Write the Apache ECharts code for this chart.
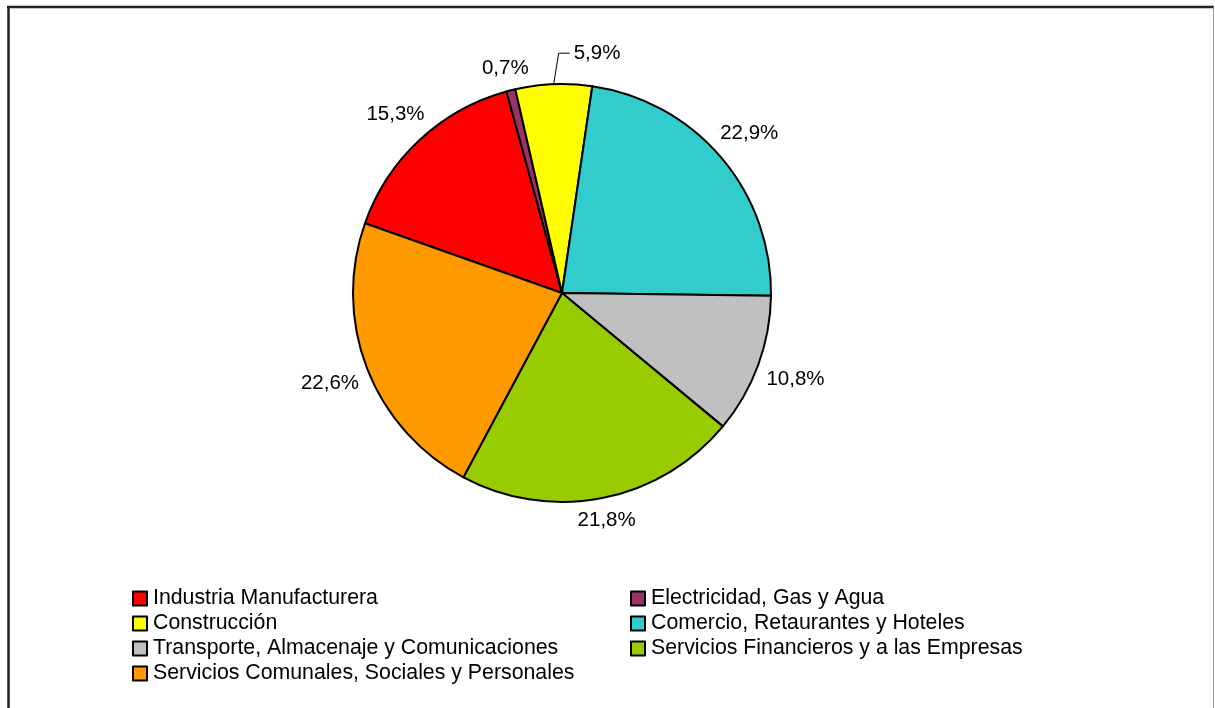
<!DOCTYPE html>
<html>
<head>
<meta charset="utf-8">
<script src="https://cdn.jsdelivr.net/npm/echarts@6/dist/echarts.min.js"></script>
<style>
html,body{margin:0;padding:0;background:#fff;}
#chart{width:1215px;height:708px;}
</style>
</head>
<body>
<div id="chart"></div>
<script>
// ---- data ----
var categories = [
  'Industria Manufacturera',
  'Electricidad, Gas y Agua',
  'Construcción',
  'Comercio, Retaurantes y Hoteles',
  'Transporte, Almacenaje y Comunicaciones',
  'Servicios Financieros y a las Empresas',
  'Servicios Comunales, Sociales y Personales'
];
var shares = [15.3, 0.7, 5.9, 22.9, 10.8, 21.8, 22.6];
var colors = ['#FF0000', '#993366', '#FFFF00', '#33CCCC', '#C0C0C0', '#99CC00', '#FF9900'];
var legendColumn1 = [categories[0], categories[2], categories[4], categories[6]];
var legendColumn2 = [categories[1], categories[3], categories[5]];
var leaderCategory = 'Construcción';

var FONT = 'Liberation Sans, Arial, sans-serif';
var GAP = 10;

var chart = echarts.init(document.getElementById('chart'), null, {renderer: 'canvas'});

var pieData = categories.map(function (c, i) {
  var item = {name: c, value: shares[i], itemStyle: {color: colors[i]}};
  if (c === leaderCategory) {
    item.labelLine = {lineStyle: {color: '#000', width: 1, opacity: 1}};
  }
  return item;
});

function fmt(v) {
  return v.toFixed(1).replace('.', ',') + '%';
}

var legendCommon = {
  orient: 'vertical',
  icon: 'rect',
  itemWidth: 14,
  itemHeight: 14,
  itemGap: 4,
  padding: 0,
  itemStyle: {borderColor: '#000', borderWidth: 2},
  textStyle: {fontFamily: FONT, fontSize: 21.3, color: '#000', lineHeight: 21, padding: [0, 0, 0, 1]},
  selectedMode: false
};

var option = {
  backgroundColor: '#fff',
  animation: false,
  graphic: [
    {type: 'line', shape: {x1: 7, y1: 7, x2: 1214, y2: 7}, style: {stroke: '#222', lineWidth: 2.5}},
    {type: 'line', shape: {x1: 8.5, y1: 6, x2: 8.5, y2: 720}, style: {stroke: '#222', lineWidth: 2.5}},
    {type: 'line', shape: {x1: 1213.5, y1: 7, x2: 1213.5, y2: 720}, style: {stroke: '#999', lineWidth: 1}}
  ],
  legend: [
    Object.assign({}, legendCommon, {data: legendColumn1, left: 132, top: 588}),
    Object.assign({}, legendCommon, {data: legendColumn2, left: 630, top: 588})
  ],
  series: [{
    type: 'pie',
    center: [562, 293],
    radius: 209,
    startAngle: 160.5,
    clockwise: true,
    avoidLabelOverlap: false,
    data: pieData,
    itemStyle: {borderColor: '#000', borderWidth: 2},
    emphasis: {disabled: true},
    label: {
      show: true,
      position: 'outside',
      fontFamily: FONT,
      fontSize: 20.5,
      color: '#000',
      formatter: function (p) { return fmt(p.value); }
    },
    labelLine: {show: true, length: 10, length2: 0, lineStyle: {opacity: 0}},
    labelLayout: function (p) {
      var pts = p.labelLinePoints;
      if (!pts) return {};
      var p0 = pts[0], p1 = pts[1];
      var vx = p1[0] - p0[0], vy = p1[1] - p0[1];
      var len = Math.sqrt(vx * vx + vy * vy) || 1;
      var dx = vx / len, dy = vy / len;
      if (categories[p.dataIndex] === leaderCategory) {
        var bend = [p0[0] + 5, p0[1] - 31];
        var end = [bend[0] + 11, bend[1]];
        return {
          x: end[0] + 4, y: end[1], align: 'left', verticalAlign: 'middle',
          labelLinePoints: [p0, bend, end]
        };
      }
      var hw = p.labelRect.width / 2, hh = p.labelRect.height / 2 - 3;
      var d = GAP + Math.abs(dx) * hw + Math.abs(dy) * hh;
      return {x: p0[0] + dx * d, y: p0[1] + dy * d, align: 'center', verticalAlign: 'middle'};
    }
  }]
};
chart.setOption(option);
</script>
</body>
</html>
